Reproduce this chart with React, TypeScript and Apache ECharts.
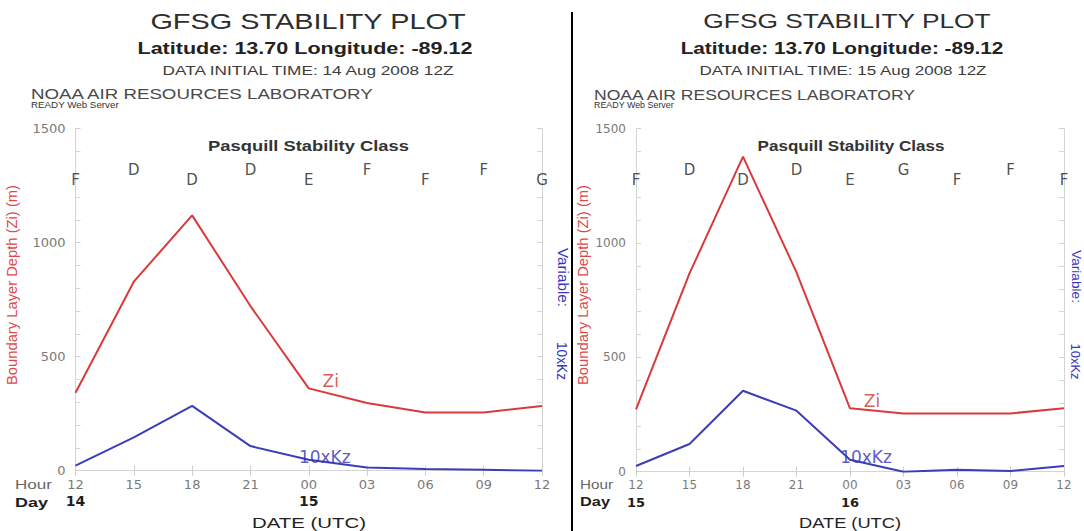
import React, { useEffect, useRef } from 'react';
import * as echarts from 'echarts';

// ---------- data ----------
const HOURS = ['12', '15', '18', '21', '00', '03', '06', '09', '12'];
const DAYS_1 = ['14', '', '', '', '15', '', '', '', ''];
const DAYS_2 = ['15', '', '', '', '16', '', '', '', ''];

const ZI_1 = [342, 829, 1120, 722, 361, 297, 255, 255, 284];
const KZ_1 = [22, 146, 284, 108, 48, 14, 7, 4, 0];
const STAB_1 = ['F', 'D', 'D', 'D', 'E', 'F', 'F', 'F', 'G'];

const ZI_2 = [273, 867, 1378, 872, 277, 255, 255, 255, 277];
const KZ_2 = [25, 121, 354, 267, 52, 0, 8, 3, 25];
const STAB_2 = ['F', 'D', 'D', 'D', 'E', 'G', 'F', 'F', 'F'];

const Y_MIN = 0;
const Y_MAX = 1500;
const Y_STEP = 500;

const TITLE = 'GFSG STABILITY PLOT';
const LATLON = 'Latitude: 13.70 Longitude: -89.12';
const INIT_1 = 'DATA INITIAL TIME: 14 Aug 2008 12Z';
const INIT_2 = 'DATA INITIAL TIME: 15 Aug 2008 12Z';
const LAB = 'NOAA AIR RESOURCES LABORATORY';
const SERVER = 'READY Web Server';
const STAB_TITLE = 'Pasquill Stability Class';
const Y_NAME = 'Boundary Layer Depth (Zi) (m)';
const Y2_NAME_A = 'Variable:';
const Y2_NAME_B = '10xKz';
const X_NAME = 'DATE (UTC)';
const ZI_NAME = 'Zi';
const KZ_NAME = '10xKz';
const LAB_LABEL_INDEX = 4;

// ---------- styles ----------
const RED = '#d93a3a';
const RED_TXT = '#e04848';
const BLUE = '#3d3db8';
const BLUE_TXT = '#3535c0';
const FRAME = '#d4d4d4';
const SANS = 'Liberation Sans';
const DJ = 'DejaVu Sans';

let ctx: CanvasRenderingContext2D | null = null;
function natWidth(text: string, size: number, weight = 'normal') {
  if (!ctx) ctx = document.createElement('canvas').getContext('2d');
  if (!ctx) return text.length * size * 0.55;
  ctx.font = `${weight} ${size}px "${SANS}"`;
  return ctx.measureText(text).width;
}

type T = {
  text: string; x: number; y: number; size: number; width?: number;
  weight?: string; color?: string; align?: string; rotation?: number;
};
function txt(t: T) {
  const weight = t.weight || 'normal';
  const nat = natWidth(t.text, t.size, weight);
  const sx = t.width ? t.width / nat : 1;
  return {
    type: 'text',
    x: t.x,
    y: t.y,
    rotation: t.rotation || 0,
    scaleX: sx,
    silent: true,
    style: {
      text: t.text,
      fill: t.color || '#333',
      fontSize: t.size,
      fontFamily: SANS,
      fontWeight: weight,
      align: t.align || 'center',
      verticalAlign: 'middle',
    },
  };
}

type Panel = {
  left: number; right: number; top: number; bottom: number;
  days: string[]; zi: number[]; kz: number[]; stab: string[];
  init: string; tickFont: number;
  texts: T[];
};

const STAB_Y_HIGH = 1319;
const STAB_Y_LOW = 1276;

const PANELS: Panel[] = [
  {
    left: 75.5, right: 542, top: 128.7, bottom: 470.7,
    days: DAYS_1, zi: ZI_1, kz: KZ_1, stab: STAB_1, init: INIT_1, tickFont: 13,
    texts: [
      { text: TITLE, x: 308, y: 21.5, size: 22, width: 316, color: '#2e2e2e' },
      { text: LATLON, x: 305, y: 49, size: 16, width: 335, weight: 'bold', color: '#222' },
      { text: INIT_1, x: 308, y: 70.5, size: 12, width: 294, color: '#3c3c3c' },
      { text: LAB, x: 31, y: 94, size: 15, width: 344, color: '#4a4a4a', align: 'left' },
      { text: SERVER, x: 31, y: 104.5, size: 9, width: 88, color: '#333', align: 'left' },
      { text: STAB_TITLE, x: 308.5, y: 146, size: 14, width: 201, weight: 'bold', color: '#333' },
      { text: Y_NAME, x: 12.5, y: 285, size: 14, width: 200, color: RED_TXT, rotation: Math.PI / 2 },
      { text: Y2_NAME_A, x: 562.5, y: 277.5, size: 14, width: 59, color: BLUE_TXT, rotation: -Math.PI / 2 },
      { text: Y2_NAME_B, x: 562.5, y: 361, size: 14, width: 38, color: BLUE_TXT, rotation: -Math.PI / 2 },
      { text: 'Hour', x: 15, y: 484.5, size: 12, width: 37, color: '#666', align: 'left' },
      { text: 'Day', x: 15, y: 502, size: 13, width: 33, color: '#1e1e1e', align: 'left', weight: 'bold' },
      { text: X_NAME, x: 309, y: 523, size: 15, width: 114, color: '#222' },
    ],
  },
  {
    left: 636, right: 1064, top: 128.7, bottom: 471.7,
    days: DAYS_2, zi: ZI_2, kz: KZ_2, stab: STAB_2, init: INIT_2, tickFont: 12,
    texts: [
      { text: TITLE, x: 847, y: 21, size: 21, width: 288, color: '#2e2e2e' },
      { text: LATLON, x: 842, y: 48.5, size: 16, width: 323, weight: 'bold', color: '#222' },
      { text: INIT_2, x: 843, y: 70.5, size: 12, width: 290, color: '#3c3c3c' },
      { text: LAB, x: 594, y: 94, size: 15, width: 323, color: '#4a4a4a', align: 'left' },
      { text: SERVER, x: 594, y: 104.5, size: 9, width: 80, color: '#333', align: 'left' },
      { text: STAB_TITLE, x: 851, y: 146, size: 14, width: 187, weight: 'bold', color: '#333' },
      { text: Y_NAME, x: 583.5, y: 285, size: 14, width: 200, color: RED_TXT, rotation: Math.PI / 2 },
      { text: Y2_NAME_A, x: 1076, y: 276.5, size: 13, width: 53, color: BLUE_TXT, rotation: -Math.PI / 2 },
      { text: Y2_NAME_B, x: 1076, y: 361.5, size: 13, width: 36, color: BLUE_TXT, rotation: -Math.PI / 2 },
      { text: 'Hour', x: 580, y: 485, size: 12, width: 33, color: '#666', align: 'left' },
      { text: 'Day', x: 580, y: 502, size: 13, width: 30, color: '#1e1e1e', align: 'left', weight: 'bold' },
      { text: X_NAME, x: 850, y: 523, size: 15, width: 102, color: '#222' },
    ],
  },
];

function buildOption() {
  const grid: any[] = [];
  const xAxis: any[] = [];
  const yAxis: any[] = [];
  const series: any[] = [];
  const graphic: any[] = [];

  PANELS.forEach((p, g) => {
    grid.push({ left: p.left, top: p.top, width: p.right - p.left, height: p.bottom - p.top, containLabel: false });
    const lineStyle = { color: FRAME, width: 1 };
    const tick = { show: true, inside: true, length: 5, lineStyle: { color: '#cfcfcf' } };
    xAxis.push({
      type: 'category', gridIndex: g, position: 'bottom', data: HOURS, boundaryGap: false,
      axisLine: { show: true, lineStyle }, axisTick: { ...tick, interval: 0 },
      splitLine: { show: false },
      axisLabel: {
        interval: 0, margin: 5,
        formatter: (v: string, i: number) => `{h|${v}}\n{d|${p.days[i] || ' '}}`,
        rich: {
          h: { fontFamily: DJ, fontSize: p.tickFont, color: '#7a7a7a', lineHeight: 17 },
          d: { fontFamily: DJ, fontSize: p.tickFont + 1, color: '#1e1e1e', lineHeight: 17, fontWeight: 'bold' },
        },
      },
    });
    xAxis.push({
      type: 'category', gridIndex: g, position: 'top', data: HOURS, boundaryGap: false,
      axisLine: { show: true, lineStyle }, axisTick: { ...tick, interval: 0 },
      axisLabel: { show: false }, splitLine: { show: false },
    });
    const yBase = {
      type: 'value', gridIndex: g, min: Y_MIN, max: Y_MAX, interval: Y_STEP,
      axisLine: { show: true, lineStyle }, axisTick: tick,
      minorTick: { show: true, splitNumber: 5, length: 5, lineStyle: { color: '#d6d6d6' } },
      splitLine: { show: false }, minorSplitLine: { show: false },
    };
    yAxis.push({
      ...yBase, position: 'left',
      axisLabel: {
        fontFamily: DJ, fontSize: p.tickFont, color: '#7a7a7a', margin: 10,
        formatter: (v: number) => String(v),
      },
    });
    yAxis.push({ ...yBase, position: 'right', axisLabel: { show: false } });

    const xi = g * 2;
    const yi = g * 2;
    series.push({
      type: 'line', name: ZI_NAME + g, xAxisIndex: xi, yAxisIndex: yi, data: p.zi,
      symbol: 'none', lineStyle: { color: RED, width: 2 }, itemStyle: { color: RED },
      silent: true, z: 3,
    });
    series.push({
      type: 'line', name: KZ_NAME + g, xAxisIndex: xi, yAxisIndex: yi, data: p.kz,
      symbol: 'none', lineStyle: { color: BLUE, width: 2 }, itemStyle: { color: BLUE },
      silent: true, z: 3,
    });
    series.push({
      type: 'scatter', xAxisIndex: xi, yAxisIndex: yi, symbolSize: 0, clip: false, silent: true, z: 4,
      data: p.stab.map((s, i) => ({
        value: [i, i % 2 === 1 ? STAB_Y_HIGH : STAB_Y_LOW],
        label: { formatter: s },
      })),
      label: { show: true, position: 'inside', fontFamily: DJ, fontSize: 15, color: '#222' },
    });
    series.push({
      type: 'scatter', xAxisIndex: xi, yAxisIndex: yi, symbolSize: 0, clip: false, silent: true, z: 5,
      data: [
        { value: [LAB_LABEL_INDEX, p.zi[LAB_LABEL_INDEX]], label: { formatter: ZI_NAME, color: '#d03030', offset: [22, -7] } },
        { value: [LAB_LABEL_INDEX, p.kz[LAB_LABEL_INDEX]], label: { formatter: KZ_NAME, color: '#3030b8', offset: [16, -3] } },
      ],
      label: { show: true, position: 'inside', fontFamily: DJ, fontSize: 17 },
    });

    p.texts.forEach((t) => graphic.push(txt(t)));
  });

  graphic.push({
    type: 'line', silent: true,
    shape: { x1: 572, y1: 12, x2: 572, y2: 531 },
    style: { stroke: '#000', lineWidth: 2 },
  });

  return {
    animation: false,
    backgroundColor: '#ffffff',
    grid, xAxis, yAxis, series, graphic,
  };
}

export default function App() {
  const ref = useRef<HTMLDivElement>(null);
  useEffect(() => {
    if (!ref.current) return;
    const chart = echarts.init(ref.current, null, { renderer: 'svg' });
    chart.setOption(buildOption() as any);
    return () => chart.dispose();
  }, []);
  return (
    <div
      ref={ref}
      style={{ position: 'fixed', left: 0, top: 0, width: 1084, height: 531, background: '#fff' }}
    />
  );
}
